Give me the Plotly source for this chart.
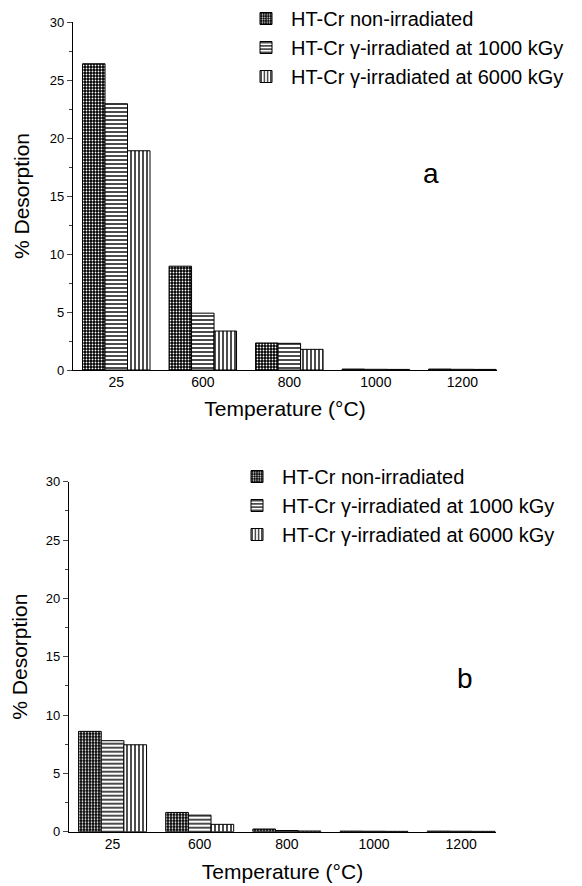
import plotly.graph_objects as go

temperatures = ["25", "600", "800", "1000", "1200"]
series_names = ["HT-Cr non-irradiated",
                "HT-Cr \u03b3-irradiated at 1000 kGy",
                "HT-Cr \u03b3-irradiated at 6000 kGy"]

a_non = [26.4, 8.95, 2.33, 0.08, 0.08]
a_1000 = [22.95, 4.9, 2.3, 0.06, 0.06]
a_6000 = [18.9, 3.36, 1.78, 0.05, 0.05]

b_non = [8.6, 1.65, 0.23, 0.05, 0.05]
b_1000 = [7.8, 1.42, 0.1, 0.04, 0.04]
b_6000 = [7.45, 0.63, 0.06, 0.03, 0.03]

y_ticks = [0, 5, 10, 15, 20, 25, 30]

FONT = "Liberation Sans, Arial, sans-serif"
W, H = 582, 886
OFF = 8  # page body margin

patterns = [
    dict(shape=".", bgcolor="black", fgcolor="white", size=3, solidity=0.3, fillmode="replace"),
    dict(shape="-", bgcolor="white", fgcolor="black", size=4, solidity=0.35, fillmode="replace"),
    dict(shape="|", bgcolor="white", fgcolor="black", size=4, solidity=0.35, fillmode="replace"),
]

fig = go.Figure()

panels = [
    ([a_non, a_1000, a_6000], "x", "y", "legend"),
    ([b_non, b_1000, b_6000], "x2", "y2", "legend2"),
]
for vals, xa, ya, leg in panels:
    for v, name, pat in zip(vals, series_names, patterns):
        fig.add_trace(go.Bar(
            x=temperatures, y=v, name=name, xaxis=xa, yaxis=ya, legend=leg,
            marker=dict(color="black", pattern=pat, line=dict(color="black", width=1)),
        ))

def px_y(p):
    return 1 - (p - OFF) / H

def px_x(p):
    return (p - OFF) / W

axis_common = dict(
    showline=True, linecolor="black", linewidth=1.3, showgrid=False, zeroline=False,
    automargin=False,
)
xtick_font = dict(family=FONT, size=14, color="black")
ytick_font = dict(family=FONT, size=13, color="black")
title_font = dict(family=FONT, size=21, color="black")
legend_font = dict(family=FONT, size=20, color="black")

fig.update_layout(
    width=W, height=H,
    margin=dict(l=0, r=0, t=0, b=0, autoexpand=False),
    paper_bgcolor="white", plot_bgcolor="white",
    barmode="group", bargap=0.22, bargroupgap=0,
    font=dict(family=FONT, color="black"),
    xaxis=dict(domain=[px_x(73), px_x(497)], anchor="y", range=[-0.5, 4.4],
               type="category", ticks="", tickfont=xtick_font, ticklabelstandoff=-1,
               title=dict(text="Temperature (\u00b0C)", font=title_font, standoff=12),
               **axis_common),
    yaxis=dict(domain=[px_y(370), px_y(22)], anchor="x", range=[0, 30],
               tickvals=y_ticks, ticks="outside", ticklen=5, tickwidth=1.2, tickfont=ytick_font,
               minor=dict(ticks="outside", ticklen=3, dtick=2.5, tickwidth=1),
               title=dict(text="% Desorption", font=title_font, standoff=14),
               **axis_common),
    xaxis2=dict(domain=[px_x(69), px_x(496)], anchor="y2", range=[-0.5, 4.4],
                type="category", ticks="", tickfont=xtick_font, ticklabelstandoff=-1,
                title=dict(text="Temperature (\u00b0C)", font=title_font, standoff=13),
                **axis_common),
    yaxis2=dict(domain=[px_y(831.7), px_y(481.7)], anchor="x2", range=[0, 30],
                tickvals=y_ticks, ticks="outside", ticklen=5, tickwidth=1.2, tickfont=ytick_font,
                minor=dict(ticks="outside", ticklen=3, dtick=2.5, tickwidth=1),
                title=dict(text="% Desorption", font=title_font, standoff=14),
                **axis_common),
    legend=dict(x=px_x(241), y=px_y(-1), xanchor="left", yanchor="top",
                font=legend_font, bgcolor="rgba(0,0,0,0)", tracegroupgap=0, itemwidth=40),
    legend2=dict(x=px_x(232), y=px_y(457), xanchor="left", yanchor="top",
                 font=legend_font, bgcolor="rgba(0,0,0,0)", tracegroupgap=0, itemwidth=40),
    annotations=[
        dict(text="a", x=px_x(431), y=px_y(173), xref="paper", yref="paper",
             xanchor="center", yanchor="middle",
             showarrow=False, font=dict(family=FONT, size=28, color="black")),
        dict(text="b", x=px_x(465), y=px_y(678), xref="paper", yref="paper",
             xanchor="center", yanchor="middle",
             showarrow=False, font=dict(family=FONT, size=28, color="black")),
    ],
)

fig.write_html("out.html")
